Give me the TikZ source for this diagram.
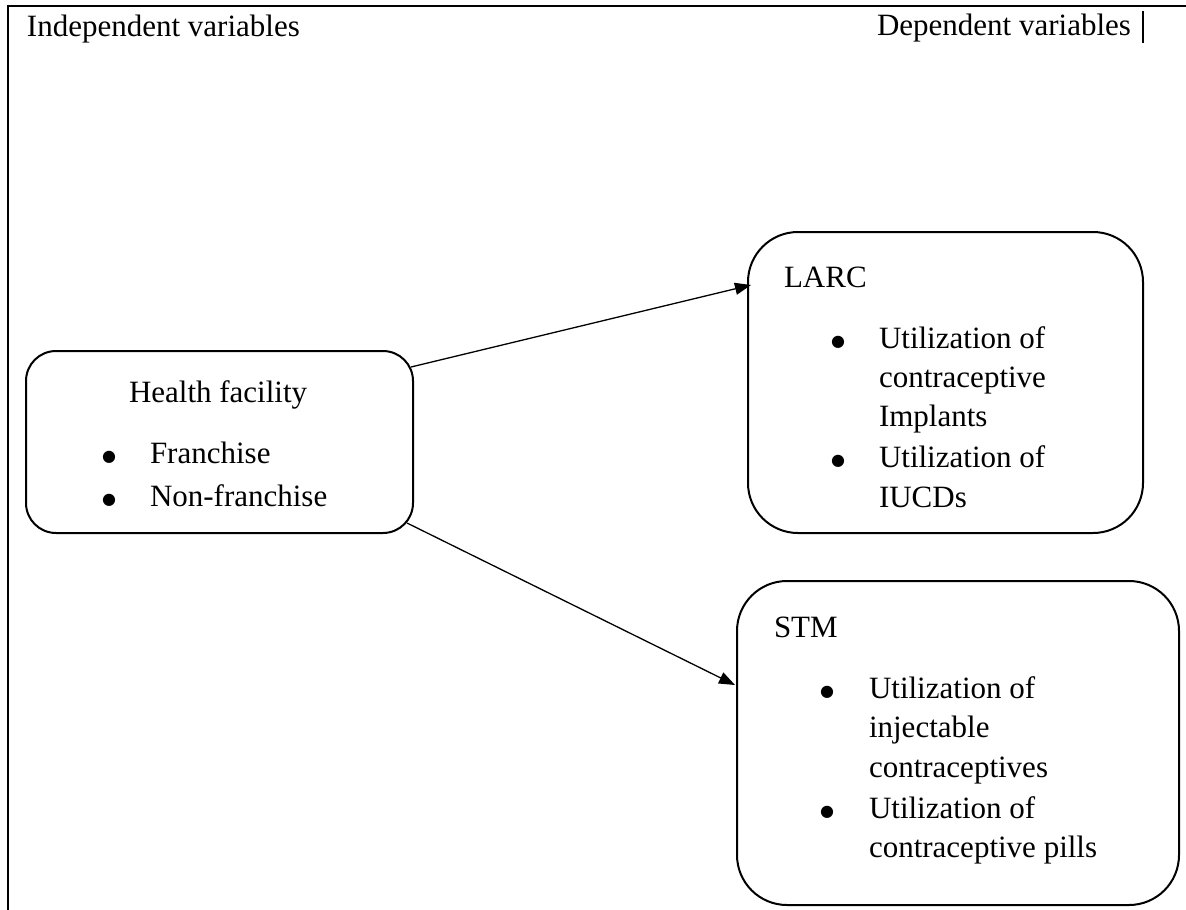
\documentclass[tikz,border=0pt]{standalone}
\usepackage{fontspec}
\setmainfont{Liberation Serif}
\newfontfamily\bulfont{DejaVu Sans}
\usetikzlibrary{arrows.meta,calc}
\begin{document}
\begin{tikzpicture}[x=1pt,y=-1pt,
  box/.style={draw=black,line width=2pt,rectangle,inner sep=0pt,outer sep=0pt},
  txt/.style={anchor=base west,inner sep=0pt,outer sep=0pt,font=\fontsize{31}{40}\selectfont},
  bul/.style={anchor=base,inner sep=0pt,outer sep=0pt,font=\bulfont\fontsize{16}{16}\selectfont},
  arr/.style={line width=1.3pt,-{Triangle[length=16pt,width=12pt]}},
  frame/.style={line width=2pt,black}]
\newcommand{\mybul}{●}
\useasboundingbox (0,0) rectangle (1186,910);
% frame
\draw[frame] (8,910) -- (8,6) -- (1186,6);
\draw[line width=1.5pt] (1143,11) -- (1143,43);
\node[txt] (indep) at (27,36) {Independent variables};
\node[txt] (dep) at (877,35) {Dependent variables};
% boxes
\node[box,rounded corners=30pt,minimum width=387pt,minimum height=182pt] (hf) at (219.5,442) {};
\node[box,rounded corners=50pt,minimum width=395pt,minimum height=301pt] (larc) at (945.5,382.5) {};
\node[box,rounded corners=50pt,minimum width=442pt,minimum height=324pt] (stm) at (958,743) {};
% health facility text
\node[txt] (hft) at (129,402) {Health facility};
\node[bul] (hb1) at (109,461) {\mybul};
\node[txt] (hf1) at (150,463) {Franchise};
\node[bul] (hb2) at (109,504) {\mybul};
\node[txt] (hf2) at (150,506) {Non-franchise};
% LARC text
\node[txt] (lt) at (784,287) {LARC};
\node[bul] (lb1) at (838,346) {\mybul};
\node[txt] (l1) at (879,348) {Utilization of};
\node[txt] (l2) at (879,387) {contraceptive};
\node[txt] (l3) at (879,426) {Implants};
\node[bul] (lb2) at (838,465) {\mybul};
\node[txt] (l4) at (879,467) {Utilization of};
\node[txt] (l5) at (879,507) {IUCDs};
% STM text
\node[txt] (st) at (774,637) {STM};
\node[bul] (sb1) at (827,696) {\mybul};
\node[txt] (s1) at (869,698) {Utilization of};
\node[txt] (s2) at (869,737) {injectable};
\node[txt] (s3) at (869,777) {contraceptives};
\node[bul] (sb2) at (827,816) {\mybul};
\node[txt] (s4) at (869,818) {Utilization of};
\node[txt] (s5) at (869,857) {contraceptive pills};
% connectors
\coordinate (a1s) at ($(hf.north east)+(-2,16)$);
\coordinate (a1e) at ($(larc.west)+(3,-97.5)$);
\coordinate (a2s) at ($(hf.south east)+(-6,-10)$);
\coordinate (a2e) at ($(stm.west)+(-2,-58)$);
\draw[arr] (a1s) -- (a1e);
\draw[arr] (a2s) -- (a2e);
\end{tikzpicture}
\end{document}
